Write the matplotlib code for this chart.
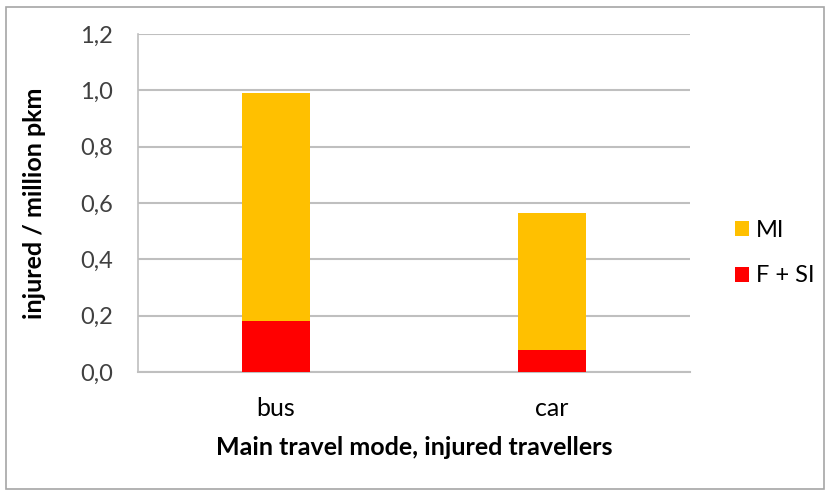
import matplotlib
matplotlib.use("Agg")
import matplotlib.pyplot as plt
from matplotlib.patches import Rectangle

categories = ["bus", "car"]
fsi = [0.181, 0.078]
mi = [0.809, 0.486]
yticks = [0.0, 0.2, 0.4, 0.6, 0.8, 1.0, 1.2]
ytick_labels = ["0,0", "0,2", "0,4", "0,6", "0,8", "1,0", "1,2"]

plt.rcParams['font.family'] = ['Lato', 'DejaVu Sans']

fig = plt.figure(figsize=(8.3, 4.95), dpi=100)
fig.patches.append(Rectangle((0.007, 0.012), 0.986, 0.974, transform=fig.transFigure,
                             fill=False, edgecolor='#a6a6a6', linewidth=1.2))
ax = fig.add_axes([0.1663, 0.2485, 0.665, 0.6828])

x = list(range(len(categories)))
w = 0.246
ax.bar(x, fsi, width=w, color='#ff0000', label='F + SI', zorder=3)
ax.bar(x, mi, width=w, bottom=fsi, color='#ffc000', label='MI', zorder=3)

ax.set_xlim(-0.5, 1.5)
ax.set_ylim(0, 1.2)
ax.set_yticks(yticks)
ax.set_yticklabels(ytick_labels, fontsize=17, color='#404040')
ax.set_xticks(x)
ax.set_xticklabels(categories, fontsize=18, color='#000000')
ax.tick_params(axis='both', length=0)
ax.tick_params(axis='y', pad=18)
ax.tick_params(axis='x', pad=18)
ax.grid(axis='y', color='#bfbfbf', linewidth=1.5, zorder=0)
for s in ['top', 'right']:
    ax.spines[s].set_visible(False)
ax.spines['left'].set_color('#bfbfbf')
ax.spines['left'].set_linewidth(1.2)
ax.spines['bottom'].set_color('#bfbfbf')
ax.spines['bottom'].set_linewidth(1.5)

ax.set_ylabel('injured / million pkm', fontsize=18, fontweight='bold', va='center')
ax.yaxis.set_label_coords(-0.187, 0.5)
ax.set_xlabel('Main travel mode, injured travellers', fontsize=18, fontweight='bold', va='center')
ax.xaxis.set_label_coords(0.5, -0.222)

handles, labels = ax.get_legend_handles_labels()
fig.legend(handles[::-1], labels[::-1], loc='center left', bbox_to_anchor=(0.86, 0.489),
           frameon=False, fontsize=17, handlelength=0.6, handleheight=0.6,
           handletextpad=0.3, labelspacing=1.05)

fig.savefig('out.png', dpi=100)
